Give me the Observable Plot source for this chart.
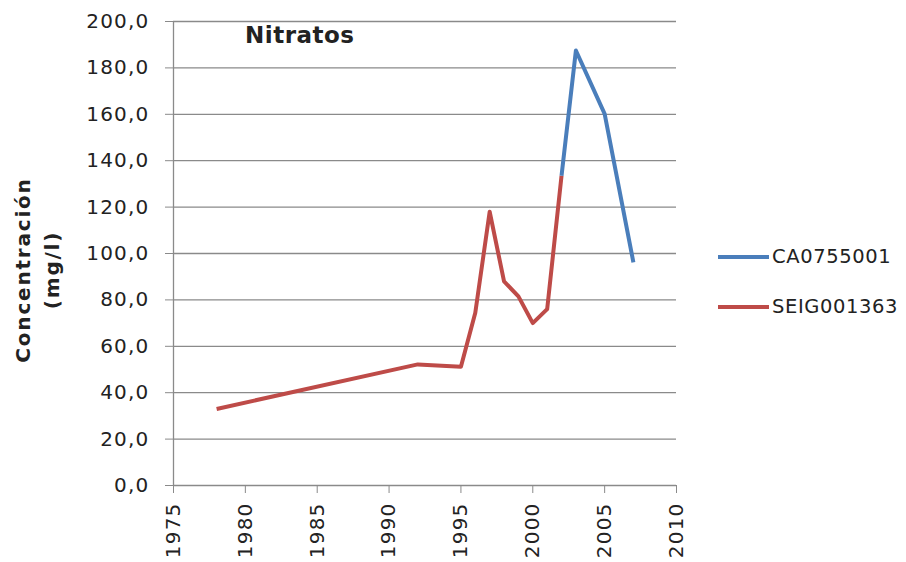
<!DOCTYPE html>
<html>
<head>
<meta charset="utf-8">
<script src="https://cdn.jsdelivr.net/npm/d3@7"></script>
<script src="https://cdn.jsdelivr.net/npm/@observablehq/plot@0.6"></script>
<style>
  body { margin: 0; background: #fff; }
  #wrap { position: relative; width: 906px; height: 562px; overflow: hidden; font-family: "DejaVu Sans", sans-serif; color: #222; }
  .lab { position: absolute; white-space: nowrap; }
</style>
</head>
<body>
<div id="wrap"></div>
<script>
// Data
const seriesNames = ["CA0755001", "SEIG001363"];
const seriesColors = ["#4A7EBB", "#BE4B48"];
const redYears = [1978, 1992, 1995, 1996, 1997, 1998, 1999, 2000, 2001, 2002];
const redValues = [33.0, 52.2, 51.2, 74.5, 118.0, 88.0, 81.5, 70.0, 76.0, 133.5];
const blueYears = [2002, 2003, 2005, 2007];
const blueValues = [133.5, 187.5, 160.2, 96.2];
const yTicks = [0, 20, 40, 60, 80, 100, 120, 140, 160, 180, 200];
const xTicks = [1975, 1980, 1985, 1990, 1995, 2000, 2005, 2010];
const titleText = "Nitratos";
const yLabelLines = ["Concentración", "(mg/l)"];

const rows = [
  ...redYears.map((x, i) => ({year: x, value: redValues[i], series: seriesNames[1]})),
  ...blueYears.map((x, i) => ({year: x, value: blueValues[i], series: seriesNames[0]}))
];

const chart = Plot.plot({
  width: 906,
  height: 562,
  marginLeft: 173,
  marginRight: 230,
  marginTop: 21,
  marginBottom: 77,
  style: {fontFamily: "DejaVu Sans, sans-serif", fontSize: "20px", color: "#222", background: "#fff", letterSpacing: "1.2px"},
  x: {domain: [1975, 2010], ticks: xTicks, tickFormat: d => String(d), label: null},
  y: {domain: [0, 200], ticks: yTicks, label: null},
  color: {domain: seriesNames, range: seriesColors},
  marks: [
    Plot.gridY(yTicks, {stroke: "#8a8a8a", strokeOpacity: 1, strokeWidth: 1.3}),
    Plot.ruleX([1975], {stroke: "#8a8a8a", strokeWidth: 1.3}),
    Plot.axisY({ticks: yTicks, tickSize: 8, tickPadding: 16, stroke: "#8a8a8a",
      tickFormat: d => d.toFixed(1).replace(".", ","), label: null}),
    Plot.axisX({ticks: xTicks, tickSize: 8, tickPadding: 9, tickRotate: -90, stroke: "#8a8a8a",
      tickFormat: d => String(d), label: null}),
    Plot.line(rows, {x: "year", y: "value", z: "series", stroke: "series", strokeWidth: 4, strokeLinejoin: "round", strokeLinecap: "butt"})
  ]
});
const wrap = document.getElementById("wrap");
wrap.appendChild(chart);

function addLabel(text, css) {
  const d = document.createElement("div");
  d.className = "lab";
  d.textContent = text;
  Object.assign(d.style, css);
  wrap.appendChild(d);
  return d;
}
// title
addLabel(titleText, {left: "245px", top: "22px", fontWeight: "bold", fontSize: "23px", letterSpacing: "0.5px"});
// y label (rotated)
const yl = document.createElement("div");
Object.assign(yl.style, {position: "absolute", left: "37px", top: "270px", width: "0", height: "0"});
yLabelLines.forEach((t, i) => {
  const s = document.createElement("div");
  s.textContent = t;
  Object.assign(s.style, {position: "absolute", whiteSpace: "nowrap", fontWeight: "bold", fontSize: "20px",
    letterSpacing: "1.8px", transform: `translate(-50%, -50%) rotate(-90deg) translate(0, ${(i - 0.5) * 29}px)`,
    left: "0", top: "0", lineHeight: "24px"});
  yl.appendChild(s);
});
wrap.appendChild(yl);
// legend
const legTop = [257, 307];
seriesNames.forEach((name, i) => {
  const line = document.createElement("div");
  Object.assign(line.style, {position: "absolute", left: "718px", top: (legTop[i] - 2) + "px", width: "51px", height: "4px", background: seriesColors[i]});
  wrap.appendChild(line);
  addLabel(name, {left: "772px", top: (legTop[i] - 13) + "px", fontSize: "19.5px", letterSpacing: "0.6px", lineHeight: "26px"});
});
</script>
</body>
</html>
